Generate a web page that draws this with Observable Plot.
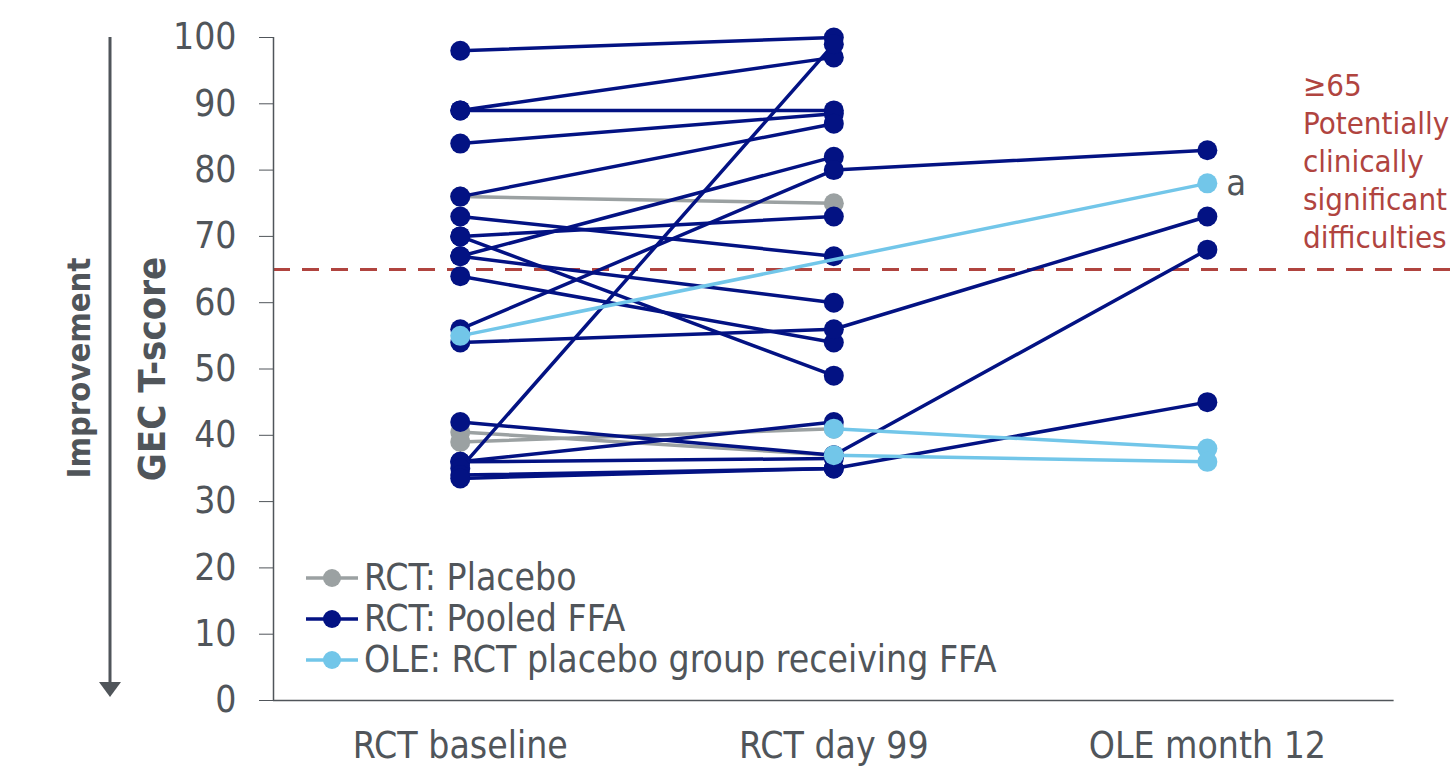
<!DOCTYPE html>
<html><head><meta charset="utf-8">
<script src="https://cdn.jsdelivr.net/npm/d3@7"></script>
<script src="https://cdn.jsdelivr.net/npm/@observablehq/plot@0.6"></script>
<style>
html,body{margin:0;padding:0;background:#fff;}
#wrap{position:relative;width:1456px;height:768px;font-family:"DejaVu Sans Condensed","DejaVu Sans",sans-serif;color:#50555a;overflow:hidden;}
#wrap svg.plot{position:absolute;left:0;top:0;}
.ov{position:absolute;white-space:nowrap;}
#ytitle{left:152px;top:369px;transform:translate(-50%,-50%) rotate(-90deg);font-weight:bold;font-size:38px;color:#50555a;}
#imp{left:79px;top:368px;transform:translate(-50%,-50%) rotate(-90deg);font-weight:bold;font-size:32.5px;color:#50555a;}
#legend{left:305px;top:557px;font-size:37px;line-height:41px;color:#50555a;}
#legend .row{display:flex;align-items:center;height:41px;}
#legend svg{margin-right:5px;}
#note{left:1303px;top:66px;font-size:31px;line-height:38px;color:#b0443f;}
</style></head><body><div id="wrap"></div>
<script>
// ---- data ----
const timepoints = ["RCT baseline", "RCT day 99", "OLE month 12"];
const groupNames = ["RCT: Placebo", "RCT: Pooled FFA", "OLE: RCT placebo group receiving FFA"];
const groupColors = ["#9ba1a2", "#031283", "#72c6e9"];
// GEC T-scores per patient at [RCT baseline, RCT day 99, OLE month 12]; null = not shown
const placeboScores = [
  [76, 75, null],
  [40.5, 37, null],
  [39, 41, null]
];
const ffaScores = [
  [98, 100, null],
  [89, 97, null],
  [89, 89, null],
  [84, 88.5, null],
  [76, 87, null],
  [73, 67, null],
  [70, 73, null],
  [70, 49, null],
  [67, 82, null],
  [67, 60, null],
  [64, 54, null],
  [56, 80, 83],
  [54, 56, 73],
  [42, 37, 68],
  [36, 42, null],
  [36, 36.5, null],
  [35, 99, null],
  [34, 35, 45],
  [33.5, 35, null]
];
const oleScores = [
  [55, null, 78],
  [null, 41, 38],
  [null, 37, 36]
];
const oleFootnotes = ["a", "", ""];
const thresholdValue = 65;
const yTicks = [0, 10, 20, 30, 40, 50, 60, 70, 80, 90, 100];
const noteLines = ["\u226565", "Potentially", "clinically", "significant", "difficulties"];

// ---- build tidy rows ----
function rows(scores, group, notes) {
  const out = [];
  scores.forEach((s, p) => s.forEach((v, t) => {
    if (v != null) out.push({id: group + "-" + p, group, t, v, note: notes && t === 2 ? notes[p] : ""});
  }));
  return out;
}
const placeboRows = rows(placeboScores, 0);
const ffaRows = rows(ffaScores, 1);
const oleRows = rows(oleScores, 2, oleFootnotes);

const axisColor = "#50555a";
const fontSize = 37;

const plot = Plot.plot({
  width: 1456,
  height: 768,
  marginLeft: 273,
  marginRight: 0,
  marginTop: 37,
  marginBottom: 68,
  style: {fontFamily: '"DejaVu Sans Condensed","DejaVu Sans",sans-serif', color: axisColor, background: "transparent", overflow: "visible"},
  x: {domain: [-0.5, 2.667], axis: null},
  y: {domain: [0, 100], axis: null},
  marks: [
    Plot.ruleY([thresholdValue], {stroke: "#b0443f", strokeWidth: 3, strokeDasharray: "17,12"}),
    Plot.ruleX([-0.5], {y1: 0, y2: 100, stroke: axisColor, strokeWidth: 1.5}),
    Plot.ruleY([0], {x1: -0.5, x2: 2.5, stroke: axisColor, strokeWidth: 1.5}),
    Plot.axisY({ticks: yTicks, tickSize: 14, tickPadding: 23, fontSize, stroke: axisColor, fill: axisColor, label: null}),
    Plot.axisX({ticks: [0, 1, 2], tickFormat: i => timepoints[i], tickSize: 0, tickPadding: 31, fontSize, fill: axisColor, label: null}),
    Plot.line(placeboRows, {x: "t", y: "v", z: "id", stroke: groupColors[0], strokeWidth: 3.5}),
    Plot.dot(placeboRows, {x: "t", y: "v", r: 10, fill: groupColors[0]}),
    Plot.line(ffaRows, {x: "t", y: "v", z: "id", stroke: groupColors[1], strokeWidth: 3.5}),
    Plot.dot(ffaRows, {x: "t", y: "v", r: 10, fill: groupColors[1]}),
    Plot.line(oleRows, {x: "t", y: "v", z: "id", stroke: groupColors[2], strokeWidth: 3.5}),
    Plot.dot(oleRows, {x: "t", y: "v", r: 10, fill: groupColors[2]}),
    Plot.text(oleRows.filter(d => d.note), {x: "t", y: "v", text: "note", dx: 19, textAnchor: "start", fontSize: 36, fill: axisColor})
  ]
});
plot.classList.add("plot");
const wrap = document.getElementById("wrap");
wrap.appendChild(plot);

// y title & improvement arrow
const yt = document.createElement("div"); yt.className = "ov"; yt.id = "ytitle"; yt.textContent = "GEC T-score"; wrap.appendChild(yt);
const im = document.createElement("div"); im.className = "ov"; im.id = "imp"; im.textContent = "Improvement"; wrap.appendChild(im);
const arrow = d3.create("svg").attr("width", 40).attr("height", 700).style("position", "absolute").style("left", "90px").style("top", "0px");
arrow.append("line").attr("x1", 20).attr("x2", 20).attr("y1", 37).attr("y2", 685).attr("stroke", axisColor).attr("stroke-width", 3);
arrow.append("path").attr("d", "M9,682 L31,682 L20,697 Z").attr("fill", axisColor);
wrap.appendChild(arrow.node());

// legend
const lg = document.createElement("div"); lg.className = "ov"; lg.id = "legend";
groupNames.forEach((name, i) => {
  const row = document.createElement("div"); row.className = "row";
  const s = d3.create("svg").attr("width", 54).attr("height", 20);
  s.append("line").attr("x1", 1).attr("x2", 53).attr("y1", 10).attr("y2", 10).attr("stroke", groupColors[i]).attr("stroke-width", 3.5);
  s.append("circle").attr("cx", 27).attr("cy", 10).attr("r", 9).attr("fill", groupColors[i]);
  row.appendChild(s.node());
  const sp = document.createElement("span"); sp.textContent = name; row.appendChild(sp);
  lg.appendChild(row);
});
wrap.appendChild(lg);

// threshold note
const nt = document.createElement("div"); nt.className = "ov"; nt.id = "note";
nt.innerHTML = noteLines.join("<br>");
wrap.appendChild(nt);
</script></body></html>
